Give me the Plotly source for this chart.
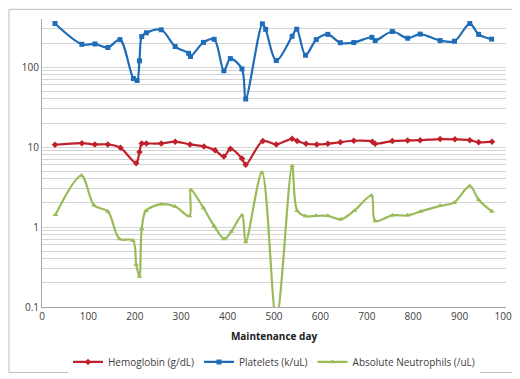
import plotly.graph_objects as go
import math

# Data
hgb_days = [28, 86, 114, 142, 169, 203, 210, 215, 225, 257, 287, 319, 349, 373, 392, 406, 431, 439, 476, 505,
            539, 550, 569, 592, 616, 643, 672, 712, 718, 755, 788, 815, 858, 890, 922, 941, 970]
hgb_vals = [10.7, 11.2, 10.8, 10.8, 9.8, 6.3, 8.7, 11.1, 11.1, 11.1, 11.7, 10.8, 10.2, 9.1, 7.6, 9.5, 7.2, 6.0, 11.9, 10.8,
            12.7, 11.9, 11.0, 10.8, 11.0, 11.5, 12.0, 11.7, 11.0, 11.9, 12.1, 12.2, 12.6, 12.5, 12.2, 11.5, 11.7]

plt_days = [28, 86, 114, 142, 168, 197, 205, 210, 215, 225, 257, 287, 316, 320, 348, 371, 392, 406, 431, 439,
            475, 482, 505, 539, 549, 568, 591, 616, 643, 672, 711, 718, 755, 788, 815, 858, 889, 922, 941, 969]
plt_vals = [351, 193, 195, 176, 221, 72, 68, 120, 241, 269, 293, 181, 149, 136, 204, 223, 90, 128, 95, 40,
            348, 297, 121, 243, 298, 141, 221, 257, 202, 203, 236, 215, 279, 230, 259, 215, 211, 351, 257, 224]

anc_days = [29, 85, 112, 142, 167, 196, 203, 210, 215, 224, 257, 287, 318, 321, 348, 371, 393, 408, 431, 439,
            474, 505, 539, 550, 568, 591, 616, 644, 673, 710, 718, 755, 788, 816, 858, 888, 922, 941, 970]
anc_vals = [1.42, 4.4, 1.87, 1.56, 0.71, 0.68, 0.34, 0.24, 0.95, 1.6, 1.93, 1.81, 1.37, 2.9, 1.73, 1.03, 0.71, 0.88, 1.4, 0.65,
            4.8, 0.07, 5.8, 1.6, 1.37, 1.38, 1.38, 1.25, 1.6, 2.48, 1.19, 1.4, 1.4, 1.57, 1.84, 2.02, 3.27, 2.2, 1.56]

x_ticks = list(range(0, 1001, 100))
y_decades = [0.1, 1, 10, 100]

RED = "#C0202A"
BLUE = "#1F6CB8"
GREEN = "#9BBB59"

fig = go.Figure()
fig.add_trace(go.Scatter(x=hgb_days, y=hgb_vals, name="Hemoglobin (g/dL)", mode="lines+markers",
                         line=dict(color=RED, width=2.2, shape="spline", smoothing=0.9),
                         marker=dict(symbol="diamond", size=5, color=RED)))
fig.add_trace(go.Scatter(x=plt_days, y=plt_vals, name="Platelets (k/uL)", mode="lines+markers",
                         line=dict(color=BLUE, width=2.2, shape="spline", smoothing=0.9),
                         marker=dict(symbol="square", size=5, color=BLUE)))
fig.add_trace(go.Scatter(x=anc_days, y=anc_vals, name="Absolute Neutrophils (/uL)", mode="lines+markers",
                         line=dict(color=GREEN, width=2.2, shape="spline", smoothing=0.9),
                         marker=dict(symbol="triangle-up", size=5, color=GREEN)))

# log grid: all integer multiples, labels only at decades
tickvals = []
ticktext = []
for d in y_decades:
    for m in range(1, 10):
        v = d * m
        if v <= 400.0001:
            tickvals.append(v)
            ticktext.append(("%g" % v) if m == 1 else "")

L, R, T, B = 34, 22, 11, 69
W, H = 520, 379
pw = W - L - R
ph = H - T - B

fig.update_layout(
    width=W, height=H,
    margin=dict(l=L, r=R, t=T, b=B),
    paper_bgcolor="white", plot_bgcolor="white",
    font=dict(family="Open Sans, sans-serif", size=10, color="#404040"),
    showlegend=True,
    legend=dict(orientation="h", x=0.5, xanchor="center", y=(ph - (367 - T)) / ph, yanchor="middle",
                font=dict(size=10, color="#404040"), itemwidth=30, tracegroupgap=0),
    xaxis=dict(range=[0, 1000], tickvals=x_ticks, showgrid=False, showline=True, linecolor="#A6A6A6",
               linewidth=1, ticks="", zeroline=False, ticklabeloverflow="allow",
               title=dict(text="<b>Maintenance day</b>", font=dict(size=10, color="#202020"), standoff=10)),
    yaxis=dict(type="log", range=[-1, math.log10(400)], tickvals=tickvals, ticktext=ticktext,
               showgrid=True, gridcolor="#D4D4D4", gridwidth=1.2, showline=True, linecolor="#A6A6A6",
               linewidth=1, ticks="", zeroline=False),
)

# outer chart border
fig.add_shape(type="rect", xref="paper", yref="paper",
              x0=(1 - L) / pw, x1=(W - 1 - L) / pw,
              y0=(ph + T - (H - 1)) / ph, y1=(ph + T - 1) / ph,
              line=dict(color="#BFBFBF", width=1), layer="below")

fig.write_html("out.html")
